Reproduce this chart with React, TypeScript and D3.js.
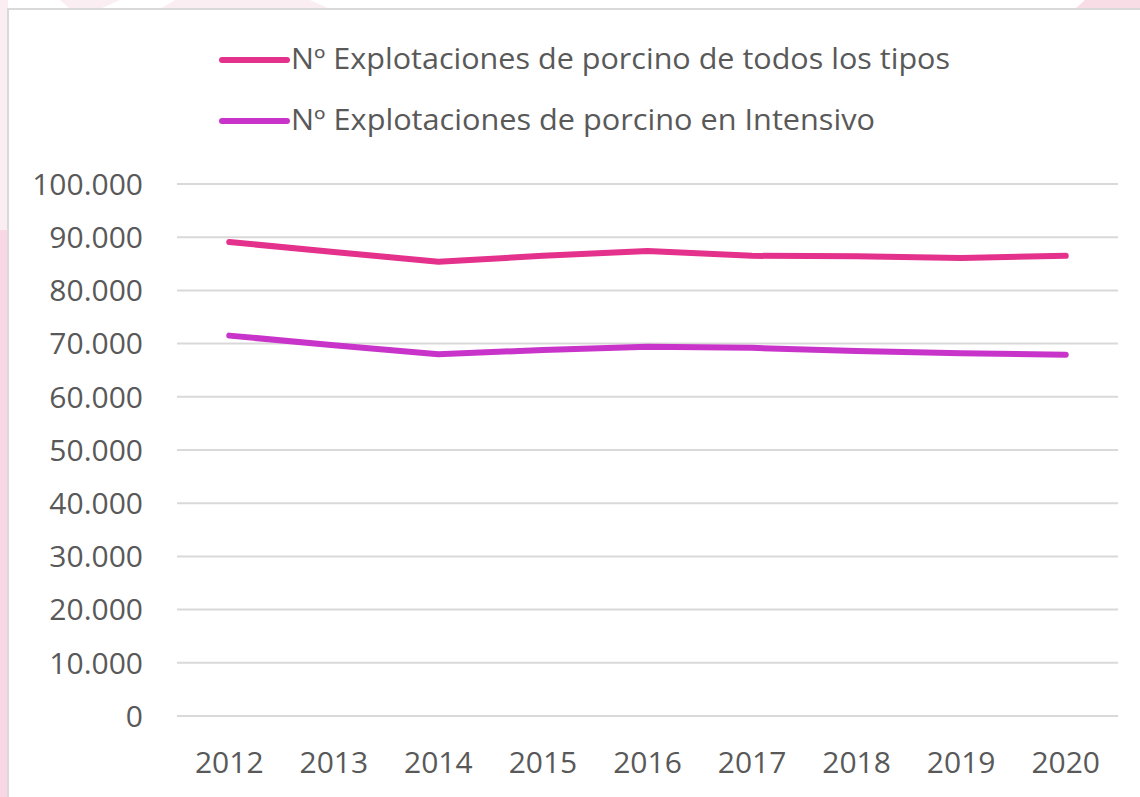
import React, { useEffect, useRef } from 'react';
import * as d3 from 'd3';

const years = ['2012', '2013', '2014', '2015', '2016', '2017', '2018', '2019', '2020'];
const todosLosTipos = [89100, 87200, 85400, 86500, 87400, 86500, 86400, 86100, 86500];
const intensivo = [71500, 69700, 68000, 68800, 69400, 69200, 68600, 68200, 67900];
const yTicks = [0, 10000, 20000, 30000, 40000, 50000, 60000, 70000, 80000, 90000, 100000];
const seriesNames = [
  'Nº Explotaciones de porcino de todos los tipos',
  'Nº Explotaciones de porcino en Intensivo',
];
const seriesColors = ['#E4318C', '#C834C9'];

export default function App() {
  const ref = useRef<SVGSVGElement>(null);

  useEffect(() => {
    const svg = d3.select(ref.current);
    svg.selectAll('*').remove();

    const W = 1140;
    const H = 797;
    const font = '"Open Sans", sans-serif';
    const textColor = '#595959';

    // background decoration outside the chart box
    svg.append('rect').attr('width', W).attr('height', H).attr('fill', '#ffffff');
    svg.append('rect').attr('x', 0).attr('y', 0).attr('width', 8).attr('height', 230).attr('fill', '#FBEEF3');
    svg.append('rect').attr('x', 0).attr('y', 230).attr('width', 8).attr('height', H - 230).attr('fill', '#F8D8E4');
    svg.append('path').attr('d', 'M60,0 L120,0 L100,9 L70,9 Z').attr('fill', '#FBEEF3');
    svg.append('path').attr('d', 'M175,0 L310,0 L330,9 L160,9 Z').attr('fill', '#FBEEF3');
    svg.append('path').attr('d', 'M1085,0 L1140,0 L1140,9 L1075,9 Z').attr('fill', '#F8DDE7');

    // chart box
    svg.append('rect')
      .attr('x', 8).attr('y', 9)
      .attr('width', W + 20).attr('height', H + 20)
      .attr('fill', '#ffffff')
      .attr('stroke', '#D9D9D9')
      .attr('stroke-width', 2);

    const margin = { top: 184, left: 177, right: 22, bottom: 81 };
    const x = d3.scaleBand<string>()
      .domain(years)
      .range([margin.left, W - margin.right]);

    const y = d3.scaleLinear()
      .domain([0, 100000])
      .range([H - margin.bottom, margin.top]);

    // gridlines
    svg.append('g')
      .selectAll('line')
      .data(yTicks)
      .join('line')
      .attr('x1', margin.left)
      .attr('x2', W - margin.right)
      .attr('y1', d => y(d))
      .attr('y2', d => y(d))
      .attr('stroke', '#D9D9D9')
      .attr('stroke-width', 2);

    // y tick labels
    const fmt = (v: number) => v === 0 ? '0' : d3.format(',')(v).replace(/,/g, '.');
    svg.append('g')
      .selectAll('text')
      .data(yTicks)
      .join('text')
      .attr('x', 143)
      .attr('y', d => y(d))
      .attr('dy', '0.36em')
      .attr('text-anchor', 'end')
      .attr('font-family', font)
      .attr('font-size', 30)
      .attr('fill', textColor)
      .text(d => fmt(d));

    // x labels
    svg.append('g')
      .selectAll('text')
      .data(years)
      .join('text')
      .attr('x', d => (x(d) as number) + x.bandwidth() / 2)
      .attr('y', 773)
      .attr('text-anchor', 'middle')
      .attr('font-family', font)
      .attr('font-size', 30)
      .attr('fill', textColor)
      .text(d => d);

    // lines
    const line = d3.line<number>()
      .x((_, i) => (x(years[i]) as number) + x.bandwidth() / 2)
      .y(d => y(d));

    [todosLosTipos, intensivo].forEach((s, i) => {
      svg.append('path')
        .datum(s)
        .attr('fill', 'none')
        .attr('stroke', seriesColors[i])
        .attr('stroke-width', 6)
        .attr('stroke-linecap', 'round')
        .attr('stroke-linejoin', 'round')
        .attr('d', line);
    });

    // legend
    const legendY = [60, 121];
    seriesNames.forEach((name, i) => {
      svg.append('line')
        .attr('x1', 222).attr('x2', 287)
        .attr('y1', legendY[i]).attr('y2', legendY[i])
        .attr('stroke', seriesColors[i])
        .attr('stroke-width', 6)
        .attr('stroke-linecap', 'round');
      svg.append('text')
        .attr('x', 291)
        .attr('y', legendY[i] + 9)
        .attr('font-family', font)
        .attr('font-size', 29)
        .attr('fill', textColor)
        .attr('textLength', i === 0 ? 659 : 584)
        .attr('lengthAdjust', 'spacingAndGlyphs')
        .text(name);
    });
  }, []);

  return (
    <svg
      ref={ref}
      width={1140}
      height={797}
      style={{ position: 'absolute', left: 0, top: 0, display: 'block' }}
    />
  );
}
